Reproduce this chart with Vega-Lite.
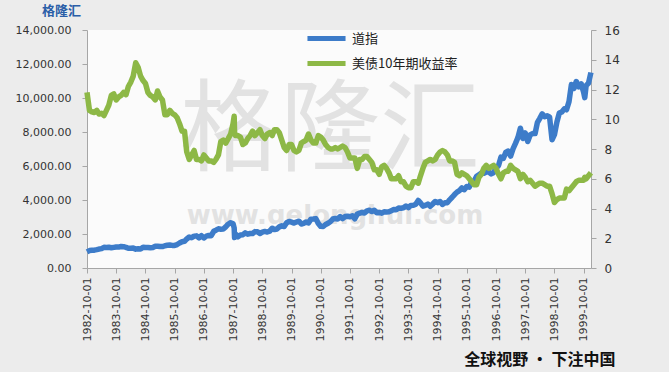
{
  "$schema": "https://vega.github.io/schema/vega-lite/v6.json",
  "autosize": {"type": "none"},
  "width": 504,
  "height": 238,
  "padding": {"left": 87, "top": 30, "right": 78, "bottom": 104},
  "background": "#ececec",
  "title": {"text": "格隆汇", "anchor": "start", "frame": "group", "dx": -45, "dy": -6, "offset": 0, "font": "Noto Sans CJK SC", "fontSize": 13, "fontWeight": "bold", "color": "#2a5ea8"},
  "config": {
    "view": {"fill": "#fbfbfb", "stroke": null},
    "axis": {"labelFont": "DejaVu Sans", "labelFontSize": 11, "labelColor": "#333333", "domainColor": "#a6a6a6", "tickColor": "#a6a6a6", "tickSize": 5, "grid": false, "labelOverlap": false, "labelBound": false},
    "legend": {"labelFont": "Noto Sans CJK SC", "labelFontSize": 13, "labelColor": "#222222"}
  },
  "data": {"format": {"parse": {"date": "date:'%Y-%m-%d'"}}, "values": [
    {"date":"1982-10-01","dow":950,"yld":11.8},
    {"date":"1982-11-01","dow":1025,"yld":10.6},
    {"date":"1982-12-01","dow":1040,"yld":10.5},
    {"date":"1983-01-01","dow":1050,"yld":10.45},
    {"date":"1983-02-01","dow":1080,"yld":10.6},
    {"date":"1983-03-01","dow":1115,"yld":10.35},
    {"date":"1983-04-01","dow":1140,"yld":10.4},
    {"date":"1983-05-01","dow":1215,"yld":10.25},
    {"date":"1983-06-01","dow":1205,"yld":10.6},
    {"date":"1983-07-01","dow":1220,"yld":10.95},
    {"date":"1983-08-01","dow":1190,"yld":11.6},
    {"date":"1983-09-01","dow":1215,"yld":11.7},
    {"date":"1983-10-01","dow":1240,"yld":11.3},
    {"date":"1983-11-01","dow":1230,"yld":11.5},
    {"date":"1983-12-01","dow":1270,"yld":11.6},
    {"date":"1984-01-01","dow":1255,"yld":11.8},
    {"date":"1984-02-01","dow":1215,"yld":11.65},
    {"date":"1984-03-01","dow":1160,"yld":12.2},
    {"date":"1984-04-01","dow":1165,"yld":12.5},
    {"date":"1984-05-01","dow":1170,"yld":12.9},
    {"date":"1984-06-01","dow":1110,"yld":13.8},
    {"date":"1984-07-01","dow":1130,"yld":13.5},
    {"date":"1984-08-01","dow":1120,"yld":12.9},
    {"date":"1984-09-01","dow":1220,"yld":12.6},
    {"date":"1984-10-01","dow":1205,"yld":12.4},
    {"date":"1984-11-01","dow":1210,"yld":11.8},
    {"date":"1984-12-01","dow":1190,"yld":11.6},
    {"date":"1985-01-01","dow":1210,"yld":11.5},
    {"date":"1985-02-01","dow":1280,"yld":11.3},
    {"date":"1985-03-01","dow":1285,"yld":11.9},
    {"date":"1985-04-01","dow":1265,"yld":11.5},
    {"date":"1985-05-01","dow":1260,"yld":11.3},
    {"date":"1985-06-01","dow":1310,"yld":10.3},
    {"date":"1985-07-01","dow":1335,"yld":10.3},
    {"date":"1985-08-01","dow":1350,"yld":10.6},
    {"date":"1985-09-01","dow":1330,"yld":10.4},
    {"date":"1985-10-01","dow":1330,"yld":10.3},
    {"date":"1985-11-01","dow":1380,"yld":10.1},
    {"date":"1985-12-01","dow":1470,"yld":9.7},
    {"date":"1986-01-01","dow":1545,"yld":9.2},
    {"date":"1986-02-01","dow":1570,"yld":9.2},
    {"date":"1986-03-01","dow":1710,"yld":7.8},
    {"date":"1986-04-01","dow":1820,"yld":7.3},
    {"date":"1986-05-01","dow":1785,"yld":7.6},
    {"date":"1986-06-01","dow":1875,"yld":7.9},
    {"date":"1986-07-01","dow":1890,"yld":7.3},
    {"date":"1986-08-01","dow":1775,"yld":7.3},
    {"date":"1986-09-01","dow":1900,"yld":7.2},
    {"date":"1986-10-01","dow":1770,"yld":7.6},
    {"date":"1986-11-01","dow":1875,"yld":7.4},
    {"date":"1986-12-01","dow":1915,"yld":7.2},
    {"date":"1987-01-01","dow":1900,"yld":7.2},
    {"date":"1987-02-01","dow":2160,"yld":7.1},
    {"date":"1987-03-01","dow":2225,"yld":7.3},
    {"date":"1987-04-01","dow":2305,"yld":7.6},
    {"date":"1987-05-01","dow":2285,"yld":8.5},
    {"date":"1987-06-01","dow":2290,"yld":8.6},
    {"date":"1987-07-01","dow":2420,"yld":8.4},
    {"date":"1987-08-01","dow":2575,"yld":8.7},
    {"date":"1987-09-01","dow":2665,"yld":9.0},
    {"date":"1987-10-01","dow":2600,"yld":9.7},
    {"date":"1987-10-15","dow":2360,"yld":10.2},
    {"date":"1987-10-20","dow":1790,"yld":9.1},
    {"date":"1987-11-01","dow":1995,"yld":8.9},
    {"date":"1987-12-01","dow":1835,"yld":8.9},
    {"date":"1988-01-01","dow":1940,"yld":8.8},
    {"date":"1988-02-01","dow":1960,"yld":8.3},
    {"date":"1988-03-01","dow":2070,"yld":8.4},
    {"date":"1988-04-01","dow":1990,"yld":8.7},
    {"date":"1988-05-01","dow":2030,"yld":8.9},
    {"date":"1988-06-01","dow":2030,"yld":9.2},
    {"date":"1988-07-01","dow":2140,"yld":8.9},
    {"date":"1988-08-01","dow":2130,"yld":9.1},
    {"date":"1988-09-01","dow":2030,"yld":9.3},
    {"date":"1988-10-01","dow":2110,"yld":8.9},
    {"date":"1988-11-01","dow":2150,"yld":8.7},
    {"date":"1988-12-01","dow":2115,"yld":9.0},
    {"date":"1989-01-01","dow":2170,"yld":9.1},
    {"date":"1989-02-01","dow":2340,"yld":8.9},
    {"date":"1989-03-01","dow":2260,"yld":9.3},
    {"date":"1989-04-01","dow":2295,"yld":9.3},
    {"date":"1989-05-01","dow":2420,"yld":9.1},
    {"date":"1989-06-01","dow":2480,"yld":8.6},
    {"date":"1989-07-01","dow":2440,"yld":8.1},
    {"date":"1989-08-01","dow":2660,"yld":7.9},
    {"date":"1989-09-01","dow":2735,"yld":8.3},
    {"date":"1989-10-01","dow":2695,"yld":8.3},
    {"date":"1989-11-01","dow":2645,"yld":7.9},
    {"date":"1989-12-01","dow":2705,"yld":7.8},
    {"date":"1990-01-01","dow":2755,"yld":7.9},
    {"date":"1990-02-01","dow":2590,"yld":8.4},
    {"date":"1990-03-01","dow":2625,"yld":8.5},
    {"date":"1990-04-01","dow":2705,"yld":8.6},
    {"date":"1990-05-01","dow":2655,"yld":9.0},
    {"date":"1990-06-01","dow":2875,"yld":8.6},
    {"date":"1990-07-01","dow":2880,"yld":8.4},
    {"date":"1990-08-01","dow":2905,"yld":8.4},
    {"date":"1990-09-01","dow":2615,"yld":8.9},
    {"date":"1990-10-01","dow":2450,"yld":8.8},
    {"date":"1990-11-01","dow":2440,"yld":8.6},
    {"date":"1990-12-01","dow":2560,"yld":8.3},
    {"date":"1991-01-01","dow":2635,"yld":8.1},
    {"date":"1991-02-01","dow":2735,"yld":8.0},
    {"date":"1991-03-01","dow":2880,"yld":8.0},
    {"date":"1991-04-01","dow":2915,"yld":8.1},
    {"date":"1991-05-01","dow":2885,"yld":8.0},
    {"date":"1991-06-01","dow":3025,"yld":8.1},
    {"date":"1991-07-01","dow":2905,"yld":8.2},
    {"date":"1991-08-01","dow":3025,"yld":8.1},
    {"date":"1991-09-01","dow":3045,"yld":7.8},
    {"date":"1991-10-01","dow":3015,"yld":7.4},
    {"date":"1991-11-01","dow":3070,"yld":7.4},
    {"date":"1991-12-01","dow":2895,"yld":7.4},
    {"date":"1992-01-01","dow":3170,"yld":6.7},
    {"date":"1992-02-01","dow":3225,"yld":7.3},
    {"date":"1992-03-01","dow":3265,"yld":7.3},
    {"date":"1992-04-01","dow":3235,"yld":7.5},
    {"date":"1992-05-01","dow":3360,"yld":7.5},
    {"date":"1992-06-01","dow":3395,"yld":7.3},
    {"date":"1992-07-01","dow":3320,"yld":7.1},
    {"date":"1992-08-01","dow":3395,"yld":6.6},
    {"date":"1992-09-01","dow":3255,"yld":6.6},
    {"date":"1992-10-01","dow":3270,"yld":6.3},
    {"date":"1992-11-01","dow":3225,"yld":6.8},
    {"date":"1992-12-01","dow":3305,"yld":6.9},
    {"date":"1993-01-01","dow":3300,"yld":6.7},
    {"date":"1993-02-01","dow":3310,"yld":6.4},
    {"date":"1993-03-01","dow":3370,"yld":6.0},
    {"date":"1993-04-01","dow":3435,"yld":6.0},
    {"date":"1993-05-01","dow":3425,"yld":6.0},
    {"date":"1993-06-01","dow":3525,"yld":6.2},
    {"date":"1993-07-01","dow":3515,"yld":5.8},
    {"date":"1993-08-01","dow":3540,"yld":5.8},
    {"date":"1993-09-01","dow":3650,"yld":5.5},
    {"date":"1993-10-01","dow":3555,"yld":5.4},
    {"date":"1993-11-01","dow":3680,"yld":5.4},
    {"date":"1993-12-01","dow":3685,"yld":5.8},
    {"date":"1994-01-01","dow":3755,"yld":5.8},
    {"date":"1994-02-01","dow":3975,"yld":5.7},
    {"date":"1994-03-01","dow":3830,"yld":6.2},
    {"date":"1994-04-01","dow":3635,"yld":6.7},
    {"date":"1994-05-01","dow":3680,"yld":7.1},
    {"date":"1994-06-01","dow":3760,"yld":7.2},
    {"date":"1994-07-01","dow":3625,"yld":7.3},
    {"date":"1994-08-01","dow":3765,"yld":7.2},
    {"date":"1994-09-01","dow":3915,"yld":7.3},
    {"date":"1994-10-01","dow":3845,"yld":7.6},
    {"date":"1994-11-01","dow":3910,"yld":7.8},
    {"date":"1994-12-01","dow":3740,"yld":7.9},
    {"date":"1995-01-01","dow":3835,"yld":7.8},
    {"date":"1995-02-01","dow":3845,"yld":7.6},
    {"date":"1995-03-01","dow":4010,"yld":7.2},
    {"date":"1995-04-01","dow":4160,"yld":7.2},
    {"date":"1995-05-01","dow":4320,"yld":7.1},
    {"date":"1995-06-01","dow":4465,"yld":6.3},
    {"date":"1995-07-01","dow":4555,"yld":6.2},
    {"date":"1995-08-01","dow":4710,"yld":6.4},
    {"date":"1995-09-01","dow":4610,"yld":6.3},
    {"date":"1995-10-01","dow":4790,"yld":6.2},
    {"date":"1995-11-01","dow":4755,"yld":6.0},
    {"date":"1995-12-01","dow":5075,"yld":5.8},
    {"date":"1996-01-01","dow":5115,"yld":5.6},
    {"date":"1996-02-01","dow":5395,"yld":5.6},
    {"date":"1996-03-01","dow":5485,"yld":6.1},
    {"date":"1996-04-01","dow":5585,"yld":6.3},
    {"date":"1996-05-01","dow":5570,"yld":6.7},
    {"date":"1996-06-01","dow":5645,"yld":6.9},
    {"date":"1996-07-01","dow":5655,"yld":6.7},
    {"date":"1996-08-01","dow":5530,"yld":6.8},
    {"date":"1996-09-01","dow":5615,"yld":6.9},
    {"date":"1996-10-01","dow":5880,"yld":6.7},
    {"date":"1996-11-01","dow":6030,"yld":6.3},
    {"date":"1996-12-01","dow":6520,"yld":6.0},
    {"date":"1997-01-01","dow":6450,"yld":6.4},
    {"date":"1997-02-01","dow":6815,"yld":6.5},
    {"date":"1997-03-01","dow":6875,"yld":6.5},
    {"date":"1997-04-01","dow":6585,"yld":6.9},
    {"date":"1997-05-01","dow":7010,"yld":6.7},
    {"date":"1997-06-01","dow":7330,"yld":6.6},
    {"date":"1997-07-01","dow":7670,"yld":6.5},
    {"date":"1997-08-01","dow":8220,"yld":6.0},
    {"date":"1997-09-01","dow":7620,"yld":6.3},
    {"date":"1997-10-01","dow":7945,"yld":6.1},
    {"date":"1997-11-01","dow":7440,"yld":5.8},
    {"date":"1997-12-01","dow":7825,"yld":5.9},
    {"date":"1998-01-01","dow":7910,"yld":5.7},
    {"date":"1998-02-01","dow":7905,"yld":5.5},
    {"date":"1998-03-01","dow":8545,"yld":5.6},
    {"date":"1998-04-01","dow":8800,"yld":5.7},
    {"date":"1998-05-01","dow":9065,"yld":5.7},
    {"date":"1998-06-01","dow":8900,"yld":5.6},
    {"date":"1998-07-01","dow":8950,"yld":5.5},
    {"date":"1998-08-01","dow":8885,"yld":5.5},
    {"date":"1998-09-01","dow":7540,"yld":5.0},
    {"date":"1998-10-01","dow":7845,"yld":4.4},
    {"date":"1998-11-01","dow":8590,"yld":4.6},
    {"date":"1998-12-01","dow":9115,"yld":4.7},
    {"date":"1999-01-01","dow":9180,"yld":4.7},
    {"date":"1999-02-01","dow":9360,"yld":4.7},
    {"date":"1999-03-01","dow":9305,"yld":5.3},
    {"date":"1999-04-01","dow":9785,"yld":5.2},
    {"date":"1999-05-01","dow":10790,"yld":5.4},
    {"date":"1999-06-01","dow":10560,"yld":5.6},
    {"date":"1999-07-01","dow":10970,"yld":5.8},
    {"date":"1999-08-01","dow":10655,"yld":5.9},
    {"date":"1999-09-01","dow":10830,"yld":5.9},
    {"date":"1999-10-01","dow":10340,"yld":5.9},
    {"date":"1999-10-15","dow":10020,"yld":6.1},
    {"date":"1999-11-01","dow":10730,"yld":6.0},
    {"date":"1999-12-01","dow":10880,"yld":6.2},
    {"date":"1999-12-31","dow":11500,"yld":6.4}
  ]},
  "layer": [
    {
      "data": {"values": [{"label": "格隆汇"}]},
      "mark": {"type": "text", "font": "Noto Sans CJK SC", "fontSize": 100, "fontWeight": "normal", "color": "#c4c4c4", "opacity": 0.45, "dx": -9, "dy": -16},
      "encoding": {"text": {"field": "label", "type": "nominal"}}
    },
    {
      "data": {"values": [{"label": "www.gelonghui.com"}]},
      "mark": {"type": "text", "font": "DejaVu Sans", "fontSize": 26, "fontWeight": "bold", "color": "#c4c4c4", "opacity": 0.45, "dx": -4, "dy": 67},
      "encoding": {"text": {"field": "label", "type": "nominal"}}
    },
    {
      "mark": {"type": "line", "strokeWidth": 5.5, "strokeJoin": "round"},
      "encoding": {
        "x": {"field": "date", "type": "temporal",
          "scale": {"domain": [{"year": 1982, "month": 10, "date": 1}, {"year": 2000, "month": 1, "date": 1}]},
          "axis": {
            "values": [
              {"year": 1982, "month": 10, "date": 1},
              {"year": 1983, "month": 10, "date": 1},
              {"year": 1984, "month": 10, "date": 1},
              {"year": 1985, "month": 10, "date": 1},
              {"year": 1986, "month": 10, "date": 1},
              {"year": 1987, "month": 10, "date": 1},
              {"year": 1988, "month": 10, "date": 1},
              {"year": 1989, "month": 10, "date": 1},
              {"year": 1990, "month": 10, "date": 1},
              {"year": 1991, "month": 10, "date": 1},
              {"year": 1992, "month": 10, "date": 1},
              {"year": 1993, "month": 10, "date": 1},
              {"year": 1994, "month": 10, "date": 1},
              {"year": 1995, "month": 10, "date": 1},
              {"year": 1996, "month": 10, "date": 1},
              {"year": 1997, "month": 10, "date": 1},
              {"year": 1998, "month": 10, "date": 1},
              {"year": 1999, "month": 10, "date": 1}
            ],
            "format": "%Y-%m-%d",
            "labelAngle": 270, "labelAlign": "right", "labelBaseline": "middle", "labelPadding": 4, "labelOverlap": false,
            "title": "全球视野 · 下注中国",
            "titleFont": "Noto Sans CJK SC", "titleFontSize": 16, "titleFontWeight": "bold", "titleColor": "#111111",
            "titleAnchor": "end", "titleAlign": "right", "titleBaseline": "alphabetic",
            "titleX": 528, "titleY": 96
          }},
        "y": {"field": "dow", "type": "quantitative", "scale": {"domain": [0, 14000]},
          "axis": {"title": null, "orient": "left", "values": [0, 2000, 4000, 6000, 8000, 10000, 12000, 14000], "format": ",.2f", "labelPadding": 11, "labelOverlap": false}},
        "color": {"datum": "道指", "type": "nominal",
          "scale": {"domain": ["道指", "美债10年期收益率"], "range": ["#3d7cc9", "#8db846"]},
          "legend": {"title": null, "orient": "none", "legendX": 233, "legendY": 2, "direction": "vertical",
            "symbolType": "M-5,0H5", "symbolStrokeWidth": 5, "symbolSize": 58, "rowPadding": 4, "labelOffset": 19}}
      }
    },
    {
      "mark": {"type": "line", "strokeWidth": 5.5, "strokeJoin": "round"},
      "encoding": {
        "x": {"field": "date", "type": "temporal",
          "scale": {"domain": [{"year": 1982, "month": 10, "date": 1}, {"year": 2000, "month": 1, "date": 1}]},
          "axis": {
            "values": [
              {"year": 1982, "month": 10, "date": 1},
              {"year": 1983, "month": 10, "date": 1},
              {"year": 1984, "month": 10, "date": 1},
              {"year": 1985, "month": 10, "date": 1},
              {"year": 1986, "month": 10, "date": 1},
              {"year": 1987, "month": 10, "date": 1},
              {"year": 1988, "month": 10, "date": 1},
              {"year": 1989, "month": 10, "date": 1},
              {"year": 1990, "month": 10, "date": 1},
              {"year": 1991, "month": 10, "date": 1},
              {"year": 1992, "month": 10, "date": 1},
              {"year": 1993, "month": 10, "date": 1},
              {"year": 1994, "month": 10, "date": 1},
              {"year": 1995, "month": 10, "date": 1},
              {"year": 1996, "month": 10, "date": 1},
              {"year": 1997, "month": 10, "date": 1},
              {"year": 1998, "month": 10, "date": 1},
              {"year": 1999, "month": 10, "date": 1}
            ],
            "format": "%Y-%m-%d",
            "labelAngle": 270, "labelAlign": "right", "labelBaseline": "middle", "labelPadding": 4, "labelOverlap": false,
            "title": "全球视野 · 下注中国",
            "titleFont": "Noto Sans CJK SC", "titleFontSize": 16, "titleFontWeight": "bold", "titleColor": "#111111",
            "titleAnchor": "end", "titleAlign": "right", "titleBaseline": "alphabetic",
            "titleX": 528, "titleY": 96
          }},
        "y": {"field": "yld", "type": "quantitative", "scale": {"domain": [0, 16]},
          "axis": {"title": null, "orient": "right", "values": [0, 2, 4, 6, 8, 10, 12, 14, 16], "labelPadding": 8, "labelFontSize": 12, "labelOverlap": false}},
        "color": {"datum": "美债10年期收益率", "type": "nominal"}
      }
    }
  ],
  "resolve": {"scale": {"y": "independent"}}
}
